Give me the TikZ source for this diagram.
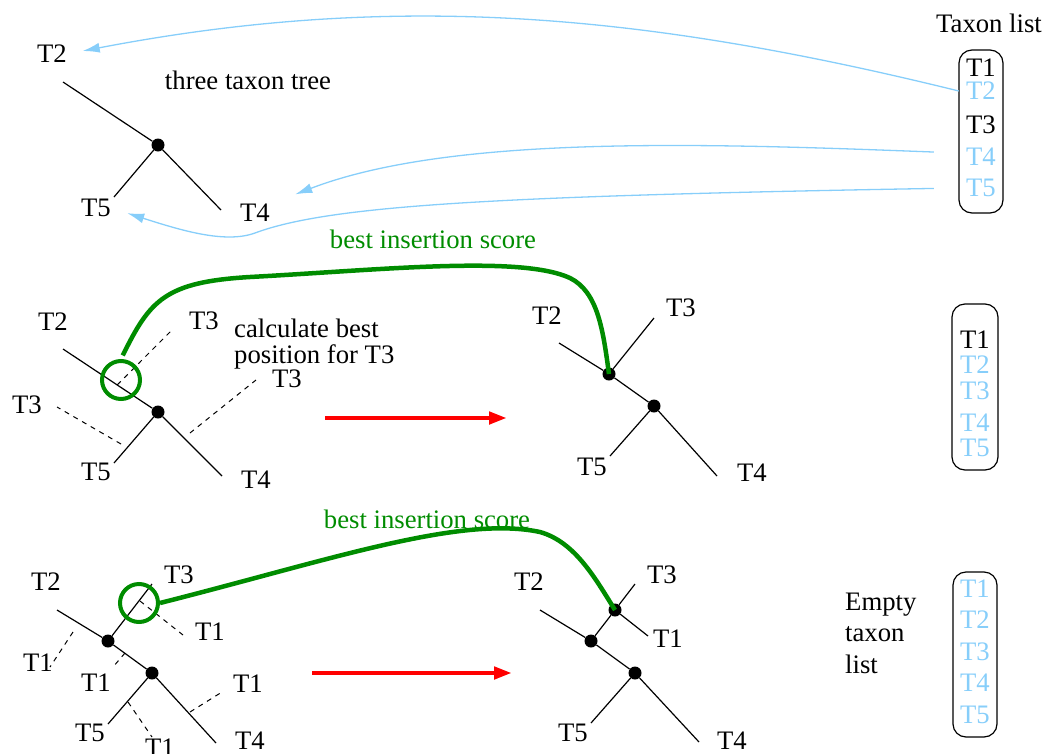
\documentclass[tikz,border=0pt]{standalone}
\usepackage{fontspec}
\setmainfont{Liberation Serif}
\newfontfamily\treefont{Liberation Serif}
\usetikzlibrary{arrows.meta,calc}
\definecolor{listblue}{RGB}{135,206,250}
\definecolor{scoregreen}{RGB}{0,140,0}

\begin{document}
\begin{tikzpicture}[x=1pt,y=-1pt,
    every node/.style={inner sep=0pt,font=\treefont\fontsize{26.7}{31}\selectfont},
    dot/.style={circle,fill=black,minimum size=13pt},
    branch/.style={line width=1.2pt},
    trial/.style={line width=1pt,dash pattern=on 5pt off 5pt},
    item/.style={minimum width=44pt},
    done/.style={item,text=listblue},
    listbox/.style={rounded corners=13pt,line width=1.2pt},
    hit/.style={circle,draw=scoregreen,line width=4pt,minimum size=38pt},
    score/.style={scoregreen,line width=4.5pt},
    feed/.style={listblue,line width=1.3pt,-{Latex[length=17pt,width=10pt]}},
    move/.style={red,line width=4.5pt,-{Triangle[length=18pt,width=12pt]}}]

        \useasboundingbox (0,0) rectangle (1045,753);

        % three taxon tree
        \node[dot] (A1) at (158,145) {};
        \coordinate (A1t2) at (63,82);
        \coordinate (A1t5) at (114,197);
        \coordinate (A1t4) at (221,210);
        \path[branch] (A1) edge (A1t2) edge (A1t5) edge (A1t4);

        \node (A1T2)  at (52,54)   {T2};
        \node (A1T5)  at (96,208)  {T5};
        \node (A1T4)  at (255,213) {T4};
        \node (A1txt) at (248,80)  {three taxon tree};

        % taxon list
        \node (L1txt) at (989,23) {Taxon list};
        \draw[listbox] (959,50) rectangle (1003,213);
        \node[item] (L1T1) at (981,68)  {T1};
        \node[done] (L1T2) at (981,91)  {T2};
        \node[item] (L1T3) at (981,125) {T3};
        \node[done] (L1T4) at (981,157) {T4};
        \node[done] (L1T5) at (981,188) {T5};

        \draw[feed,shorten >=16pt]
              (L1T2.west) .. controls (650,15) and (400,-10) .. (A1T2.east);
        \draw[feed,shorten <=25pt,shorten >=27pt]
              ([yshift=4pt]L1T4.west) .. controls (700,143) and (450,135) .. (A1T4.north east);
        \draw[feed,shorten <=25pt,shorten >=17pt]
              (L1T5.west) .. controls (500,196) and (330,205) .. (255,233)
                          .. controls (225,244) and (180,230) .. (A1T5.east);

        % where can T3 go
        \node[dot] (B1) at (158,412) {};
        \coordinate (B1t2) at (63,349);
        \coordinate (B1t5) at (114,463);
        \coordinate (B1t4) at (222,476);
        \path[branch] (B1) edge (B1t2) edge (B1t5) edge (B1t4);

        \node (B1T2)  at (53,322)  {T2};
        \node (B1T5)  at (96,472)  {T5};
        \node (B1T4)  at (256,480) {T4};
        \node (B1T3a) at (204,321) {T3};
        \node (B1T3b) at (27,405)  {T3};
        \node (B1T3c) at (287,379) {T3};

        \coordinate (B1x2) at ($(B1t2)!0.57!(B1)$);
        \coordinate (B1y2) at (172,330);
        \coordinate (B1x5) at (121,444);
        \coordinate (B1y5) at (57,407);
        \coordinate (B1x4) at (190,433);
        \coordinate (B1y4) at (256,380);
        \path[trial] (B1x2) edge (B1y2)
                     (B1x5) edge (B1y5)
                     (B1x4) edge (B1y4);

        \node[align=left,anchor=base west,font=\treefont\fontsize{26.7}{26}\selectfont]
              (B1txt) at (234,363) {calculate best\\position for T3};

        \coordinate (go1)  at (325,418);
        \coordinate (go1e) at (507,418);
        \draw[move] (go1) -- (go1e);

        % T3 inserted
        \node[dot] (B2a) at (609,374) {};
        \node[dot] (B2b) at (654,406) {};
        \coordinate (B2t2) at (559,343);
        \coordinate (B2t3) at (654,318);
        \coordinate (B2t5) at (610,456);
        \coordinate (B2t4) at (717,476);
        \path[branch] (B2a) edge (B2t2) edge (B2t3) edge (B2b)
                      (B2b) edge (B2t5) edge (B2t4);

        \node (B2T2) at (547,316) {T2};
        \node (B2T3) at (681,308) {T3};
        \node (B2T5) at (592,467) {T5};
        \node (B2T4) at (752,473) {T4};

        \node[hit] (B1hit) at (121,380) {};
        \draw[score,shorten <=4pt]
              (B1hit.north) .. controls (150,300) and (165,282) .. (250,277)
                            .. controls (380,270) and (520,255) .. (570,278)
                            .. controls (598,292) and (603,330) .. (B2a.center);
        \node[text=scoregreen] (B1best) at (433,239) {best insertion score};

        \draw[listbox] (952,304) rectangle (998,470);
        \node[item] (L2T1) at (975,340) {T1};
        \node[done] (L2T2) at (975,365) {T2};
        \node[done] (L2T3) at (975,391) {T3};
        \node[done] (L2T4) at (975,423) {T4};
        \node[done] (L2T5) at (975,448) {T5};

        % where can T1 go
        \node[dot] (C1a) at (108,641) {};
        \node[dot] (C1b) at (152,673) {};
        \coordinate (C1t2) at (57,610);
        \coordinate (C1t3) at (152,584);
        \coordinate (C1t5) at (108,724);
        \coordinate (C1t4) at (216,743);
        \path[branch] (C1a) edge (C1t2) edge (C1t3) edge (C1b)
                      (C1b) edge (C1t5) edge (C1t4);

        \node (C1T2) at (46,582)  {T2};
        \node (C1T3) at (179,575) {T3};
        \node (C1T5) at (90,733)  {T5};
        \node (C1T4) at (250,741) {T4};
        \node (C1T1a) at (210,632) {T1};
        \node (C1T1b) at (38,663)  {T1};
        \node (C1T1c) at (96,683)  {T1};
        \node (C1T1d) at (248,684) {T1};
        \node (C1T1e) at (160,748) {T1};

        \coordinate (C1x3) at (140,601);
        \coordinate (C1y3) at (183,635);
        \coordinate (C1x2) at (73,632);
        \coordinate (C1y2) at (50,667);
        \coordinate (C1xb) at (125,653);
        \coordinate (C1yb) at (113,667);
        \coordinate (C1x4) at (190,712);
        \coordinate (C1y4) at (222,692);
        \coordinate (C1x5) at (128,702);
        \coordinate (C1y5) at (152,737);
        \path[trial] (C1x3) edge (C1y3)
                     (C1x2) edge (C1y2)
                     (C1xb) edge (C1yb)
                     (C1x4) edge (C1y4)
                     (C1x5) edge (C1y5);

        \coordinate (go2)  at (312,673);
        \coordinate (go2e) at (512,673);
        \draw[move] (go2) -- (go2e);

        % T1 inserted
        \node[dot] (C2a) at (591,641) {};
        \node[dot] (C2b) at (635,673) {};
        \node[dot] (C2c) at (615,610) {};
        \coordinate (C2t2) at (540,610);
        \coordinate (C2t3) at (635,584);
        \coordinate (C2t1) at (648,636);
        \coordinate (C2t5) at (591,723);
        \coordinate (C2t4) at (699,742);
        \path[branch] (C2a) edge (C2t2) edge (C2c) edge (C2b)
                      (C2c) edge (C2t3) edge (C2t1)
                      (C2b) edge (C2t5) edge (C2t4);

        \node (C2T2) at (529,582) {T2};
        \node (C2T3) at (662,575) {T3};
        \node (C2T1) at (668,639) {T1};
        \node (C2T5) at (573,733) {T5};
        \node (C2T4) at (732,741) {T4};

        \node[hit] (C1hit) at (139,603) {};
        \draw[score]
              (C1hit.east) .. controls (330,560) and (460,515) .. (540,532)
                           .. controls (575,542) and (595,578) .. (C2c.center);
        \node[text=scoregreen] (C1best) at (427,519) {best insertion score};

        \node[align=left,anchor=base west,font=\treefont\fontsize{26.7}{31.5}\selectfont]
              (L3txt) at (845,673) {Empty\\taxon\\list};
        \draw[listbox] (953,572) rectangle (997,737);
        \node[done] (L3T1) at (975,589) {T1};
        \node[done] (L3T2) at (975,620) {T2};
        \node[done] (L3T3) at (975,652) {T3};
        \node[done] (L3T4) at (975,683) {T4};
        \node[done] (L3T5) at (975,715) {T5};
      \end{tikzpicture}
\end{document}
